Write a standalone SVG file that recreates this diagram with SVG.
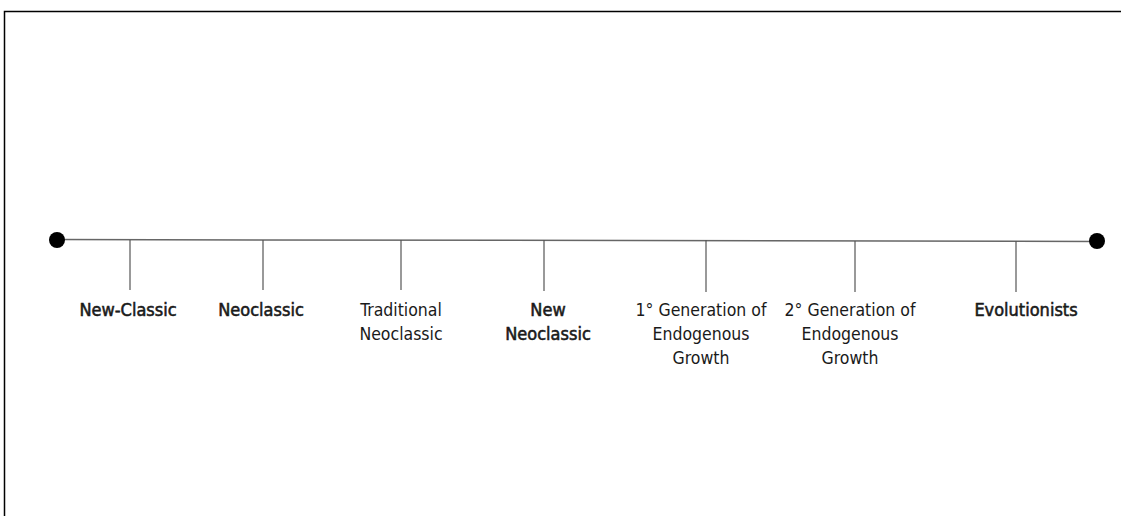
<svg xmlns="http://www.w3.org/2000/svg" width="1121" height="516" viewBox="0 0 1121 516">
<style>
.lbl{font-family:"DejaVu Sans Condensed","Liberation Sans",sans-serif;font-size:17.5px;fill:#1a1a1a;text-anchor:middle}
.b{font-size:18px;stroke:#1a1a1a;stroke-width:0.55}
.tick{stroke:#555;stroke-width:1.2}
</style>
<rect width="1121" height="516" fill="#fff"/>
<path d="M4.5 516 V11.5 H1121" fill="none" stroke="#000" stroke-width="1.5"/>
<g id="connectors">
<line x1="57" y1="239.5" x2="1097" y2="241.5" stroke="#666" stroke-width="1.5"/>
<line class="tick" x1="130" y1="240" x2="130" y2="290"/>
<line class="tick" x1="263" y1="240" x2="263" y2="290"/>
<line class="tick" x1="401" y1="240" x2="401" y2="290"/>
<line class="tick" x1="544" y1="240" x2="544" y2="291"/>
<line class="tick" x1="706" y1="240" x2="706" y2="292"/>
<line class="tick" x1="855" y1="241" x2="855" y2="292"/>
<line class="tick" x1="1016" y1="241" x2="1016" y2="292"/>
</g>
<g id="start"><circle cx="57" cy="240" r="8" fill="#000"/></g>
<g id="end"><circle cx="1097" cy="241" r="8" fill="#000"/></g>
<g id="n1"><text class="lbl b" x="128" y="316">New-Classic</text></g>
<g id="n2"><text class="lbl b" x="261" y="316">Neoclassic</text></g>
<g id="n3"><text class="lbl" x="401" y="316">Traditional</text><text class="lbl" x="401" y="340">Neoclassic</text></g>
<g id="n4"><text class="lbl b" x="548" y="316">New</text><text class="lbl b" x="548" y="340">Neoclassic</text></g>
<g id="n5"><text class="lbl" x="701" y="316">1° Generation of</text><text class="lbl" x="701" y="340">Endogenous</text><text class="lbl" x="701" y="364">Growth</text></g>
<g id="n6"><text class="lbl" x="850" y="316">2° Generation of</text><text class="lbl" x="850" y="340">Endogenous</text><text class="lbl" x="850" y="364">Growth</text></g>
<g id="n7"><text class="lbl b" x="1026" y="316">Evolutionists</text></g>
</svg>
